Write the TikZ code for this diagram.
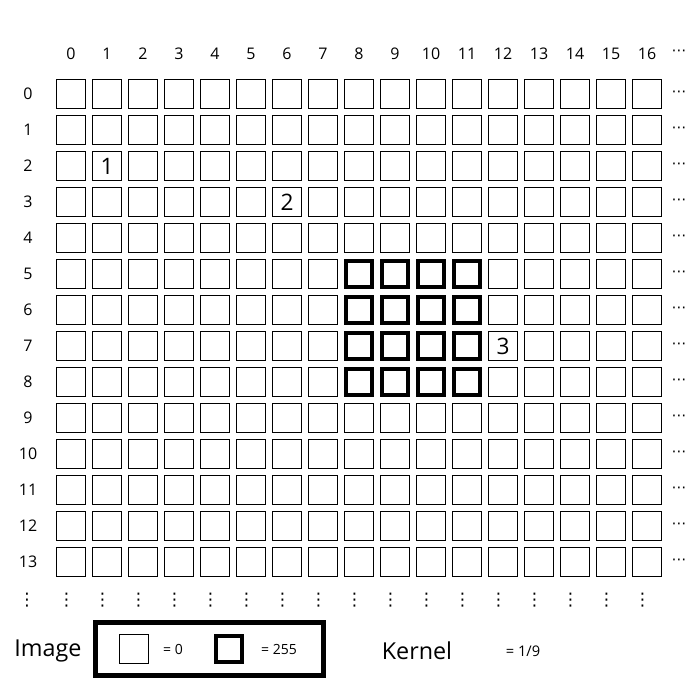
\documentclass[tikz,border=0pt]{standalone}
\usepackage{fontspec}
\setmainfont{Open Sans}
\newfontfamily\dotsfont{DejaVu Sans}
\usetikzlibrary{positioning}

\tikzset{
  cell/.style={draw, line width=1.1pt, minimum size=21.4pt, inner sep=0pt},
  heavycell/.style={draw, line width=3pt, minimum size=19.5pt, inner sep=0pt, fill=white},
  idx/.style={inner sep=0.75pt, font=\fontsize{12}{14}\selectfont},
  cellnum/.style={inner sep=0.75pt, font=\fontsize{17}{20}\selectfont},
  hmore/.style={inner sep=0pt, font=\dotsfont\fontsize{11}{12}\selectfont},
  vmore/.style={inner sep=0pt, font=\dotsfont\fontsize{13}{14}\selectfont},
  keytext/.style={inner sep=0.75pt, font=\fontsize{10.5}{12}\selectfont},
  caption/.style={inner sep=0.75pt, font=\fontsize{17.5}{20}\selectfont}
}

\begin{document}
\begin{tikzpicture}[x=0.75pt,y=0.75pt,yscale=-1,xscale=1]
\useasboundingbox (0,0) rectangle (700,700);

% Grid cells
\foreach \r in {0,...,13}{
  \foreach \c in {0,...,16}{
    \node (c\r-\c) [cell] at ({71+36*\c},{94+36*\r}) {};
  }
}
% Cells of value 255
\foreach \r in {5,...,8}{
  \foreach \c in {8,...,11}{
    \node (k\r-\c) [heavycell] at (c\r-\c) {};
  }
}

% Column and row indices
\foreach \c in {0,...,16}{
  \node (col\c) [idx] at ({71+36*\c},54) {\c};
  \node (vd\c) [vmore] at ({66.5+36*\c},600) {⋮};
}
\foreach \r in {0,...,13}{
  \node (row\r) [idx] at (28,{94+36*\r}) {\r};
  \node (hd\r) [hmore] at (679,{94+36*\r}) {⋯};
}
\node (hdcol) [hmore] at (679,53) {⋯};
\node (vdrow) [vmore] at (27,600) {⋮};

% Text Node
\node (n1) [cellnum] at (c2-1) {1};
% Text Node
\node (n2) [cellnum] at (c3-6) {2};
% Text Node
\node (n3) [cellnum] at (c7-12) {3};

% Legend
\node (legend) [draw, line width=3.75pt, minimum width=171pt, minimum height=39.75pt, inner sep=0pt] at (209.5,649) {};
\node (image) [caption] at (48,651) {Image};
\node (zero) [cell] at (134,649) {};
\node (zerotxt) [keytext] at (173,649) {= 0};
\node (full) [heavycell] at (229,649) {};
\node (fulltxt) [keytext] at (279,649) {= 255};
\node (kernel) [caption] at (417,651) {Kernel};
\node (kerneltxt) [keytext, font=\fontsize{11}{12}\selectfont] at (523,651) {= 1/9};

\end{tikzpicture}
\end{document}
